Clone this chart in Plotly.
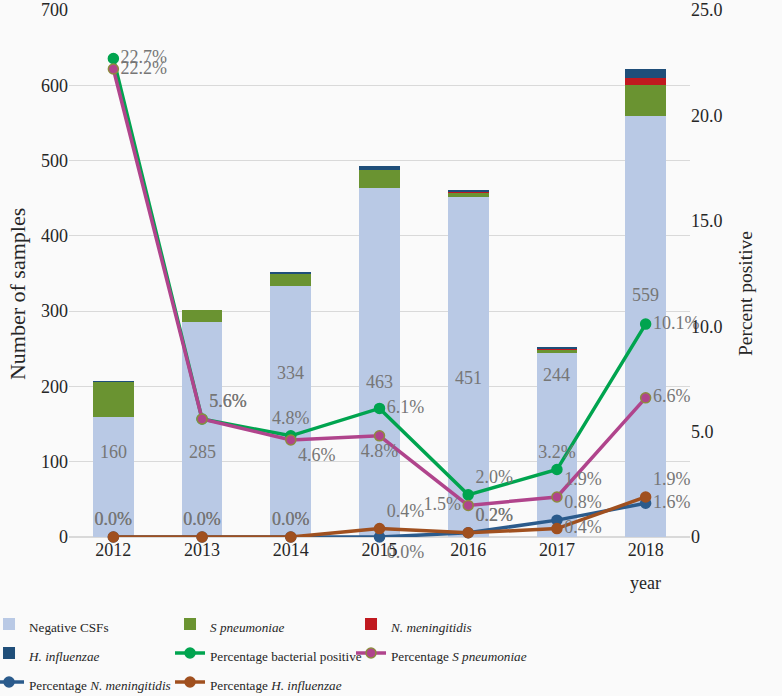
import plotly.graph_objects as go

years = ["2012", "2013", "2014", "2015", "2016", "2017", "2018"]

# stacked sample counts
negative_csfs = [160, 285, 334, 463, 451, 244, 559]
s_pneumoniae = [46, 17, 16, 24, 7, 5, 41]
n_meningitidis = [0, 0, 0, 0, 1, 2, 10]
h_influenzae = [1, 0, 1, 6, 1, 1, 12]

# percentages (right axis)
pct_bacterial = [22.7, 5.6, 4.8, 6.1, 2.0, 3.2, 10.1]
pct_s_pneumoniae = [22.2, 5.6, 4.6, 4.8, 1.5, 1.9, 6.6]
pct_n_meningitidis = [0.0, 0.0, 0.0, 0.0, 0.2, 0.8, 1.6]
pct_h_influenzae = [0.0, 0.0, 0.0, 0.4, 0.2, 0.4, 1.9]

FONT = "Liberation Serif, DejaVu Serif, serif"
LABEL_GREY = "#767676"

# label placement (styling only)
neg_label_y = [113, 113, 218, 206, 211, 215, 322]
pos_text_pos = ["middle right", "top right", "top center", "middle right", "top right", "top center", "middle right"]
spn_text_pos = ["middle right", "top right", "bottom right", "bottom center", "middle left", "top right", "middle right"]
nm_text_pos = ["top center", "top center", "top center", "bottom right", "top right", "top right", "middle right"]
hi_text_pos = ["top center", "top center", "top center", "top right", "top right", "middle right", "top right"]


def legend_name(text):
    # smaller legend text, while the legend font size sets the row spacing
    return f"<span style='font-family:Liberation Serif;font-size:13.2px'>{text}</span>"


fig = go.Figure()

bar_specs = [
    ("Negative CSFs", negative_csfs, "#b9c9e5"),
    ("<i>S pneumoniae</i>", s_pneumoniae, "#6a9331"),
    ("<i>N. meningitidis</i>", n_meningitidis, "#c0191f"),
    ("<i>H. influenzae</i>", h_influenzae, "#1f4e79"),
]
for name, vals, color in bar_specs:
    fig.add_trace(go.Bar(x=years, y=vals, name=legend_name(name),
                         marker=dict(color=color, line=dict(width=0)), width=0.46, yaxis="y"))

line_specs = [
    ("Percentage bacterial positive", pct_bacterial, "#00a44f", "#00a44f", pos_text_pos),
    ("Percentage <i>S pneumoniae</i>", pct_s_pneumoniae, "#b0448c", "#8e8a3f", spn_text_pos),
    ("Percentage <i>N. meningitidis</i>", pct_n_meningitidis, "#2b5b8c", "#2b5b8c", nm_text_pos),
    ("Percentage <i>H. influenzae</i>", pct_h_influenzae, "#a0501f", "#a0501f", hi_text_pos),
]
for name, vals, color, edge, tpos in line_specs:
    fig.add_trace(go.Scatter(
        x=years, y=vals, name=legend_name(name), yaxis="y2", mode="lines+markers+text",
        line=dict(color=color, width=3.5),
        marker=dict(color=color, size=10, line=dict(color=edge, width=1.5)),
        text=[f"{v:.1f}%" for v in vals], textposition=tpos,
        textfont=dict(family=FONT, size=18, color=LABEL_GREY),
        cliponaxis=False,
    ))

# category axis: annotations take the category index
for i, (v, ly) in enumerate(zip(negative_csfs, neg_label_y)):
    fig.add_annotation(x=i, y=ly, xref="x", yref="y", text=str(v), showarrow=False,
                       font=dict(family=FONT, size=18, color=LABEL_GREY))

fig.add_annotation(x=len(years) - 1, y=-0.0873, xref="x", yref="paper", yanchor="middle",
                   text="year", showarrow=False, font=dict(family=FONT, size=18, color="#262626"))

# axis titles sit a little below the plot's middle, so they are annotations
fig.add_annotation(x=-0.0837, y=0.461, xref="paper", yref="paper", text="Number of samples",
                   textangle=-90, showarrow=False, xanchor="center", yanchor="middle",
                   font=dict(family=FONT, size=22, color="#262626"))
fig.add_annotation(x=1.0886, y=0.461, xref="paper", yref="paper", text="Percent positive",
                   textangle=-90, showarrow=False, xanchor="center", yanchor="middle",
                   font=dict(family=FONT, size=19.5, color="#262626"))

fig.update_layout(
    width=782, height=696,
    margin=dict(l=69, r=92, t=10, b=159, autoexpand=False),
    paper_bgcolor="#fafafa", plot_bgcolor="#fafafa",
    font=dict(family=FONT, size=18, color="#262626"),
    barmode="stack",
    xaxis=dict(type="category", range=[-0.5, 6.5], showgrid=False, ticks="", showline=False,
               tickfont=dict(family=FONT, size=18)),
    yaxis=dict(range=[0, 700], dtick=100, showgrid=True, gridcolor="#d9d9d9", gridwidth=1,
               zeroline=True, zerolinecolor="#d9d9d9", ticks="", showline=False,
               tickfont=dict(family=FONT, size=18), ticklabeloverflow="allow"),
    yaxis2=dict(range=[0, 25], overlaying="y", side="right",
                tickvals=[0, 5, 10, 15, 20, 25], ticktext=["0", "5.0", "10.0", "15.0", "20.0", "25.0"],
                showgrid=False, zeroline=False, ticks="", showline=False,
                tickfont=dict(family=FONT, size=18), ticklabeloverflow="allow"),
    legend=dict(orientation="h", x=-0.1288, xanchor="left", y=-0.1281, yanchor="top",
                entrywidth=136, entrywidthmode="pixels", traceorder="normal",
                font=dict(family=FONT, size=20, color="#262626"), bgcolor="rgba(0,0,0,0)"),
)

# drop the default page margin so the figure fills the window
fig.write_html("out.html", config={"displayModeBar": False},
               post_script="document.body.style.margin='0';"
                           "document.body.style.background='#fafafa';")
